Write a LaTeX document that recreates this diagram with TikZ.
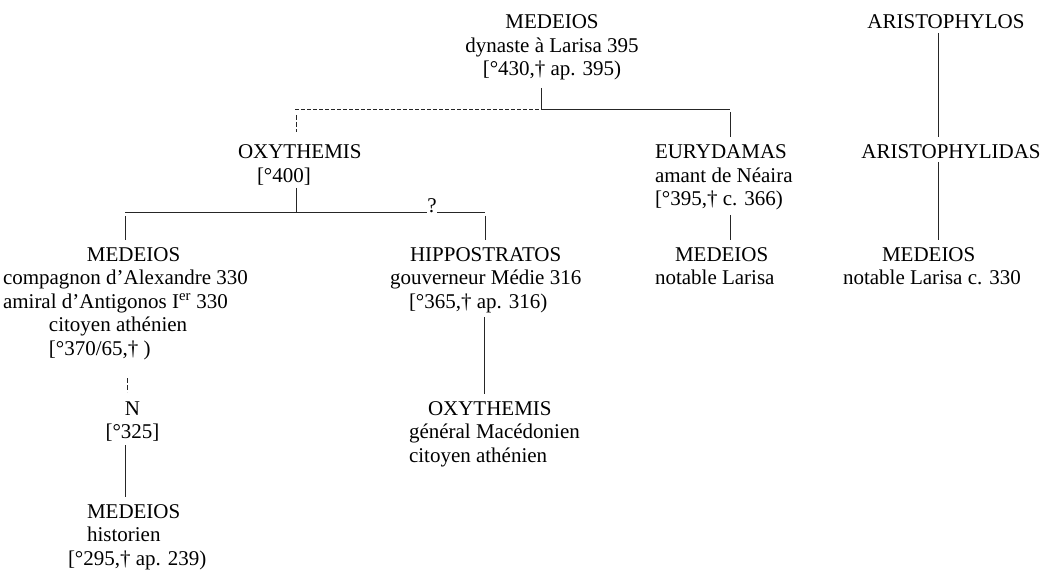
\documentclass[tikz,border=0pt]{standalone}
\usepackage{fontspec}
\setmainfont{Liberation Serif}
\newcommand\persL[1]{\begin{tabular}[t]{@{}l@{}}#1\end{tabular}}
\newcommand\persC[1]{\begin{tabular}[t]{@{}c@{}}#1\end{tabular}}
\begin{document}
\begin{tikzpicture}[x=1pt,y=-1pt,
  every node/.style={inner sep=0pt, outer sep=0pt, font=\fontsize{21}{23.5}\selectfont},
  ln/.style={line width=0.8pt, black!85},
  hdash/.style={ln, dash pattern=on 3.5pt off 2.5pt},
  vdash/.style={ln, dash pattern=on 5pt off 2pt}]
\useasboundingbox (0,0) rectangle (1042,572);

% persons
\node[anchor=base] (medTop) at (552,29) {\persC{MEDEIOS\\dynaste à Larisa 395\\{}[°430,† ap. 395)}};
\node[anchor=base] (aph) at (946,29) {ARISTOPHYLOS};
\node[anchor=base] (aphd) at (951,159) {ARISTOPHYLIDAS};
\node[anchor=base west] (medR) at (843,261.5) {\persL{\hspace*{39pt}MEDEIOS\\notable Larisa c. 330}};
\node[anchor=base west] (oxy1) at (238,159) {\persL{OXYTHEMIS\\\hspace*{19pt}[°400]}};
\node[anchor=base west] (eury) at (655,159) {\persL{EURYDAMAS\\amant de Néaira\\{}[°395,† c. 366)}};
\node[anchor=base west] (medE) at (655,261.5) {\persL{\hspace*{20pt}MEDEIOS\\notable Larisa}};
\node[anchor=base west] (medL) at (3,261.5) {\persL{\hspace*{84pt}MEDEIOS\\compagnon d’Alexandre 330\\amiral d’Antigonos I\textsuperscript{er} 330\\\hspace*{46pt}citoyen athénien\\\hspace*{46pt}[°370/65,† )}};
\node[anchor=base west] (hipp) at (390,261.5) {\persL{\hspace*{20pt}HIPPOSTRATOS\\gouverneur Médie 316\\\hspace*{19pt}[°365,† ap. 316)}};
\node[anchor=base] (nn) at (132.5,415) {\persC{N\\{}[°325]}};
\node[anchor=base west] (oxy2) at (409,415) {\persL{\hspace*{19pt}OXYTHEMIS\\général Macédonien\\citoyen athénien}};
\node[anchor=base west] (medH) at (68,518) {\persL{\hspace*{19pt}MEDEIOS\\\hspace*{19pt}historien\\{}[°295,† ap. 239)}};
\node[anchor=base] (q) at (432,212.5) {?};

% junction coordinates
\coordinate (mt) at (541,88);
\coordinate (mj) at (541,109.5);
\coordinate (dl) at (295,109.5);
\coordinate (dr) at (730,109.5);
\coordinate (eTop) at (730,112);
\coordinate (eIn) at (730,137);
\coordinate (oDa) at (296.5,115);
\coordinate (oDb) at (296.5,132);
\coordinate (oOut) at (296,188);
\coordinate (oJ) at (296,212.5);
\coordinate (hL) at (125,212.5);
\coordinate (hQa) at (427,212.5);
\coordinate (hQb) at (437,212.5);
\coordinate (hR) at (485,212.5);
\coordinate (cLa) at (125,216);
\coordinate (cLb) at (125,240);
\coordinate (cRa) at (485,216);
\coordinate (cRb) at (485,240);
\coordinate (eOut) at (730,215);
\coordinate (meIn) at (730,240);
\coordinate (aOut) at (938,33);
\coordinate (adIn) at (938,137);
\coordinate (adOut) at (938,162);
\coordinate (mrIn) at (938,240);
\coordinate (mlOut) at (127,378);
\coordinate (nIn) at (127,392);
\coordinate (nOut) at (125.5,445);
\coordinate (mhIn) at (125.5,497);
\coordinate (hOut) at (484.5,317);
\coordinate (o2In) at (484.5,394);

% connectors
\draw[ln] (mt) -- (mj);
\draw[hdash] (dl) -- (mj);
\draw[ln] (mj) -- (dr);
\draw[ln] (eTop) -- (eIn);
\draw[vdash] (oDa) -- (oDb);
\draw[ln] (oOut) -- (oJ);
\draw[ln] (hL) -- (hQa);
\draw[ln] (hQb) -- (hR);
\draw[ln] (cLa) -- (cLb);
\draw[ln] (cRa) -- (cRb);
\draw[ln] (eOut) -- (meIn);
\draw[ln] (aOut) -- (adIn);
\draw[ln] (adOut) -- (mrIn);
\draw[vdash] (mlOut) -- (nIn);
\draw[ln] (nOut) -- (mhIn);
\draw[ln] (hOut) -- (o2In);
\end{tikzpicture}
\end{document}
